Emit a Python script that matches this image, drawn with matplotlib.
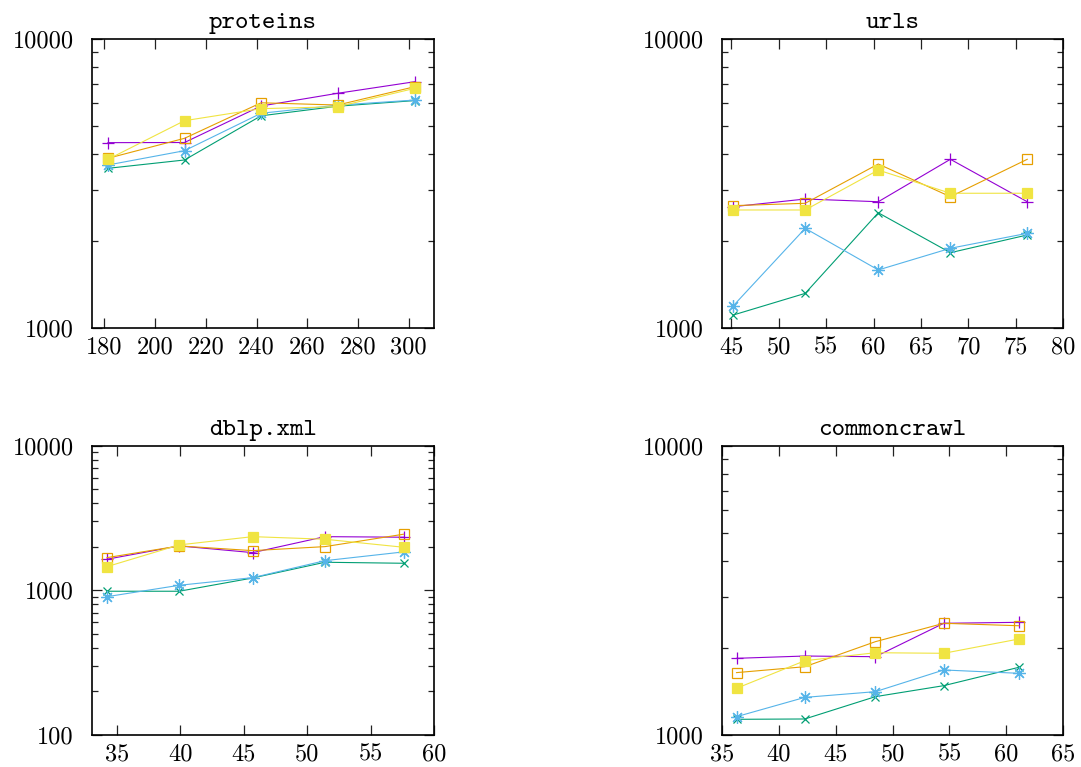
import matplotlib
matplotlib.use("Agg")
import matplotlib.pyplot as plt
from matplotlib.ticker import LogLocator, NullFormatter, FixedLocator, FixedFormatter
import warnings
warnings.filterwarnings("ignore")

plt.rcParams['axes.formatter.use_mathtext'] = True

# ---------------- data ----------------
titles = ["proteins", "urls", "dblp.xml", "commoncrawl"]

proteins_x = [181.4, 211.6, 241.8, 272.0, 302.5]
proteins_purple = [4375, 4380, 5860, 6486, 7115]
proteins_green = [3565, 3810, 5420, 5850, 6120]
proteins_blue = [3661, 4103, 5530, 5900, 6146]
proteins_orange = [3862, 4529, 6013, 5906, 6838]
proteins_yellow = [3830, 5212, 5737, 5826, 6750]

urls_x = [45.2, 52.8, 60.5, 68.1, 76.2]
urls_purple = [2625, 2791, 2731, 3831, 2731]
urls_green = [1106, 1315, 2501, 1819, 2095]
urls_blue = [1189, 2209, 1585, 1884, 2123]
urls_orange = [2647, 2697, 3690, 2843, 3831]
urls_yellow = [2557, 2557, 3516, 2922, 2922]

dblp_x = [34.2, 39.9, 45.7, 51.4, 57.6]
dblp_purple = [1641, 2028, 1823, 2351, 2330]
dblp_green = [986, 986, 1218, 1564, 1539]
dblp_blue = [904, 1084, 1224, 1604, 1844]
dblp_orange = [1683, 2028, 1882, 2006, 2444]
dblp_yellow = [1458, 2061, 2351, 2256, 1986]

cc_x = [36.3, 42.3, 48.5, 54.5, 61.1]
cc_purple = [1841, 1875, 1865, 2433, 2452]
cc_green = [1133, 1136, 1357, 1481, 1714]
cc_blue = [1157, 1349, 1412, 1678, 1634]
cc_orange = [1643, 1722, 2102, 2433, 2386]
cc_yellow = [1450, 1806, 1925, 1916, 2147]

x_ticks = [[180, 200, 220, 240, 260, 280, 300],
           [45, 50, 55, 60, 65, 70, 75, 80],
           [35, 40, 45, 50, 55, 60],
           [35, 40, 45, 50, 55, 60, 65]]
y_ticks = [[1000, 10000], [1000, 10000], [100, 1000, 10000], [1000, 10000]]

# ---------------- style ----------------
colors = ["#9400d3", "#009e73", "#56b4e9", "#e69f00", "#f0e442"]
markers = ["+", "x", (8, 2, 0), "s", "s"]
msizes = [9, 6, 9, 7, 7]
fills = [True, True, True, False, True]

panels = [
    (proteins_x, [proteins_purple, proteins_green, proteins_blue, proteins_orange, proteins_yellow]),
    (urls_x, [urls_purple, urls_green, urls_blue, urls_orange, urls_yellow]),
    (dblp_x, [dblp_purple, dblp_green, dblp_blue, dblp_orange, dblp_yellow]),
    (cc_x, [cc_purple, cc_green, cc_blue, cc_orange, cc_yellow]),
]
xlims = [(175, 310), (44, 80), (33, 60), (35, 65)]
ylims = [(1000, 10000), (1000, 10000), (100, 10000), (1000, 10000)]

W, H = 1081, 767
fig = plt.figure(figsize=(W / 100, H / 100), dpi=100)
boxes = [(91.7, 434, 39, 327.7), (721.7, 1063.3, 39, 327.7),
         (91.7, 434, 445.7, 735), (721.7, 1063.3, 445.7, 735)]

for i, (box, (xs, series)) in enumerate(zip(boxes, panels)):
    l, r, t, b = box
    ax = fig.add_axes([l / W, 1 - b / H, (r - l) / W, (b - t) / H])
    for s, (ys, c, m, ms, f) in enumerate(zip(series, colors, markers, msizes, fills)):
        ax.plot(xs, ys, color=c, lw=0.8, marker=m, markersize=ms,
                markerfacecolor=(c if f else "none"), markeredgecolor=c,
                markeredgewidth=0.9, zorder=2 + s)
    ax.set_yscale("log")
    ax.set_xlim(*xlims[i])
    ax.set_ylim(*ylims[i])
    ax.xaxis.set_major_locator(FixedLocator(x_ticks[i]))
    ax.xaxis.set_major_formatter(FixedFormatter([str(v) for v in x_ticks[i]]))
    ax.yaxis.set_major_locator(FixedLocator(y_ticks[i]))
    ax.yaxis.set_major_formatter(FixedFormatter([str(v) for v in y_ticks[i]]))
    ax.yaxis.set_minor_locator(LogLocator(base=10, subs=range(2, 10)))
    ax.yaxis.set_minor_formatter(NullFormatter())
    ax.xaxis.set_minor_locator(FixedLocator([]))
    ax.tick_params(which="both", direction="in", top=True, right=True, width=0.9, color="#222222")
    ax.tick_params(which="major", length=7)
    ax.tick_params(which="minor", length=4)
    ax.tick_params(axis="y", pad=13)
    ax.tick_params(axis="x", pad=6)
    for lab in ax.get_xticklabels() + ax.get_yticklabels():
        lab.set_family("cmr10")
        lab.set_fontsize(17.5)
    for sp in ax.spines.values():
        sp.set_linewidth(1.2)
    ax.set_title(titles[i], family="cmtt10", fontsize=18.5, pad=8)

fig.savefig("out.png", dpi=100)
